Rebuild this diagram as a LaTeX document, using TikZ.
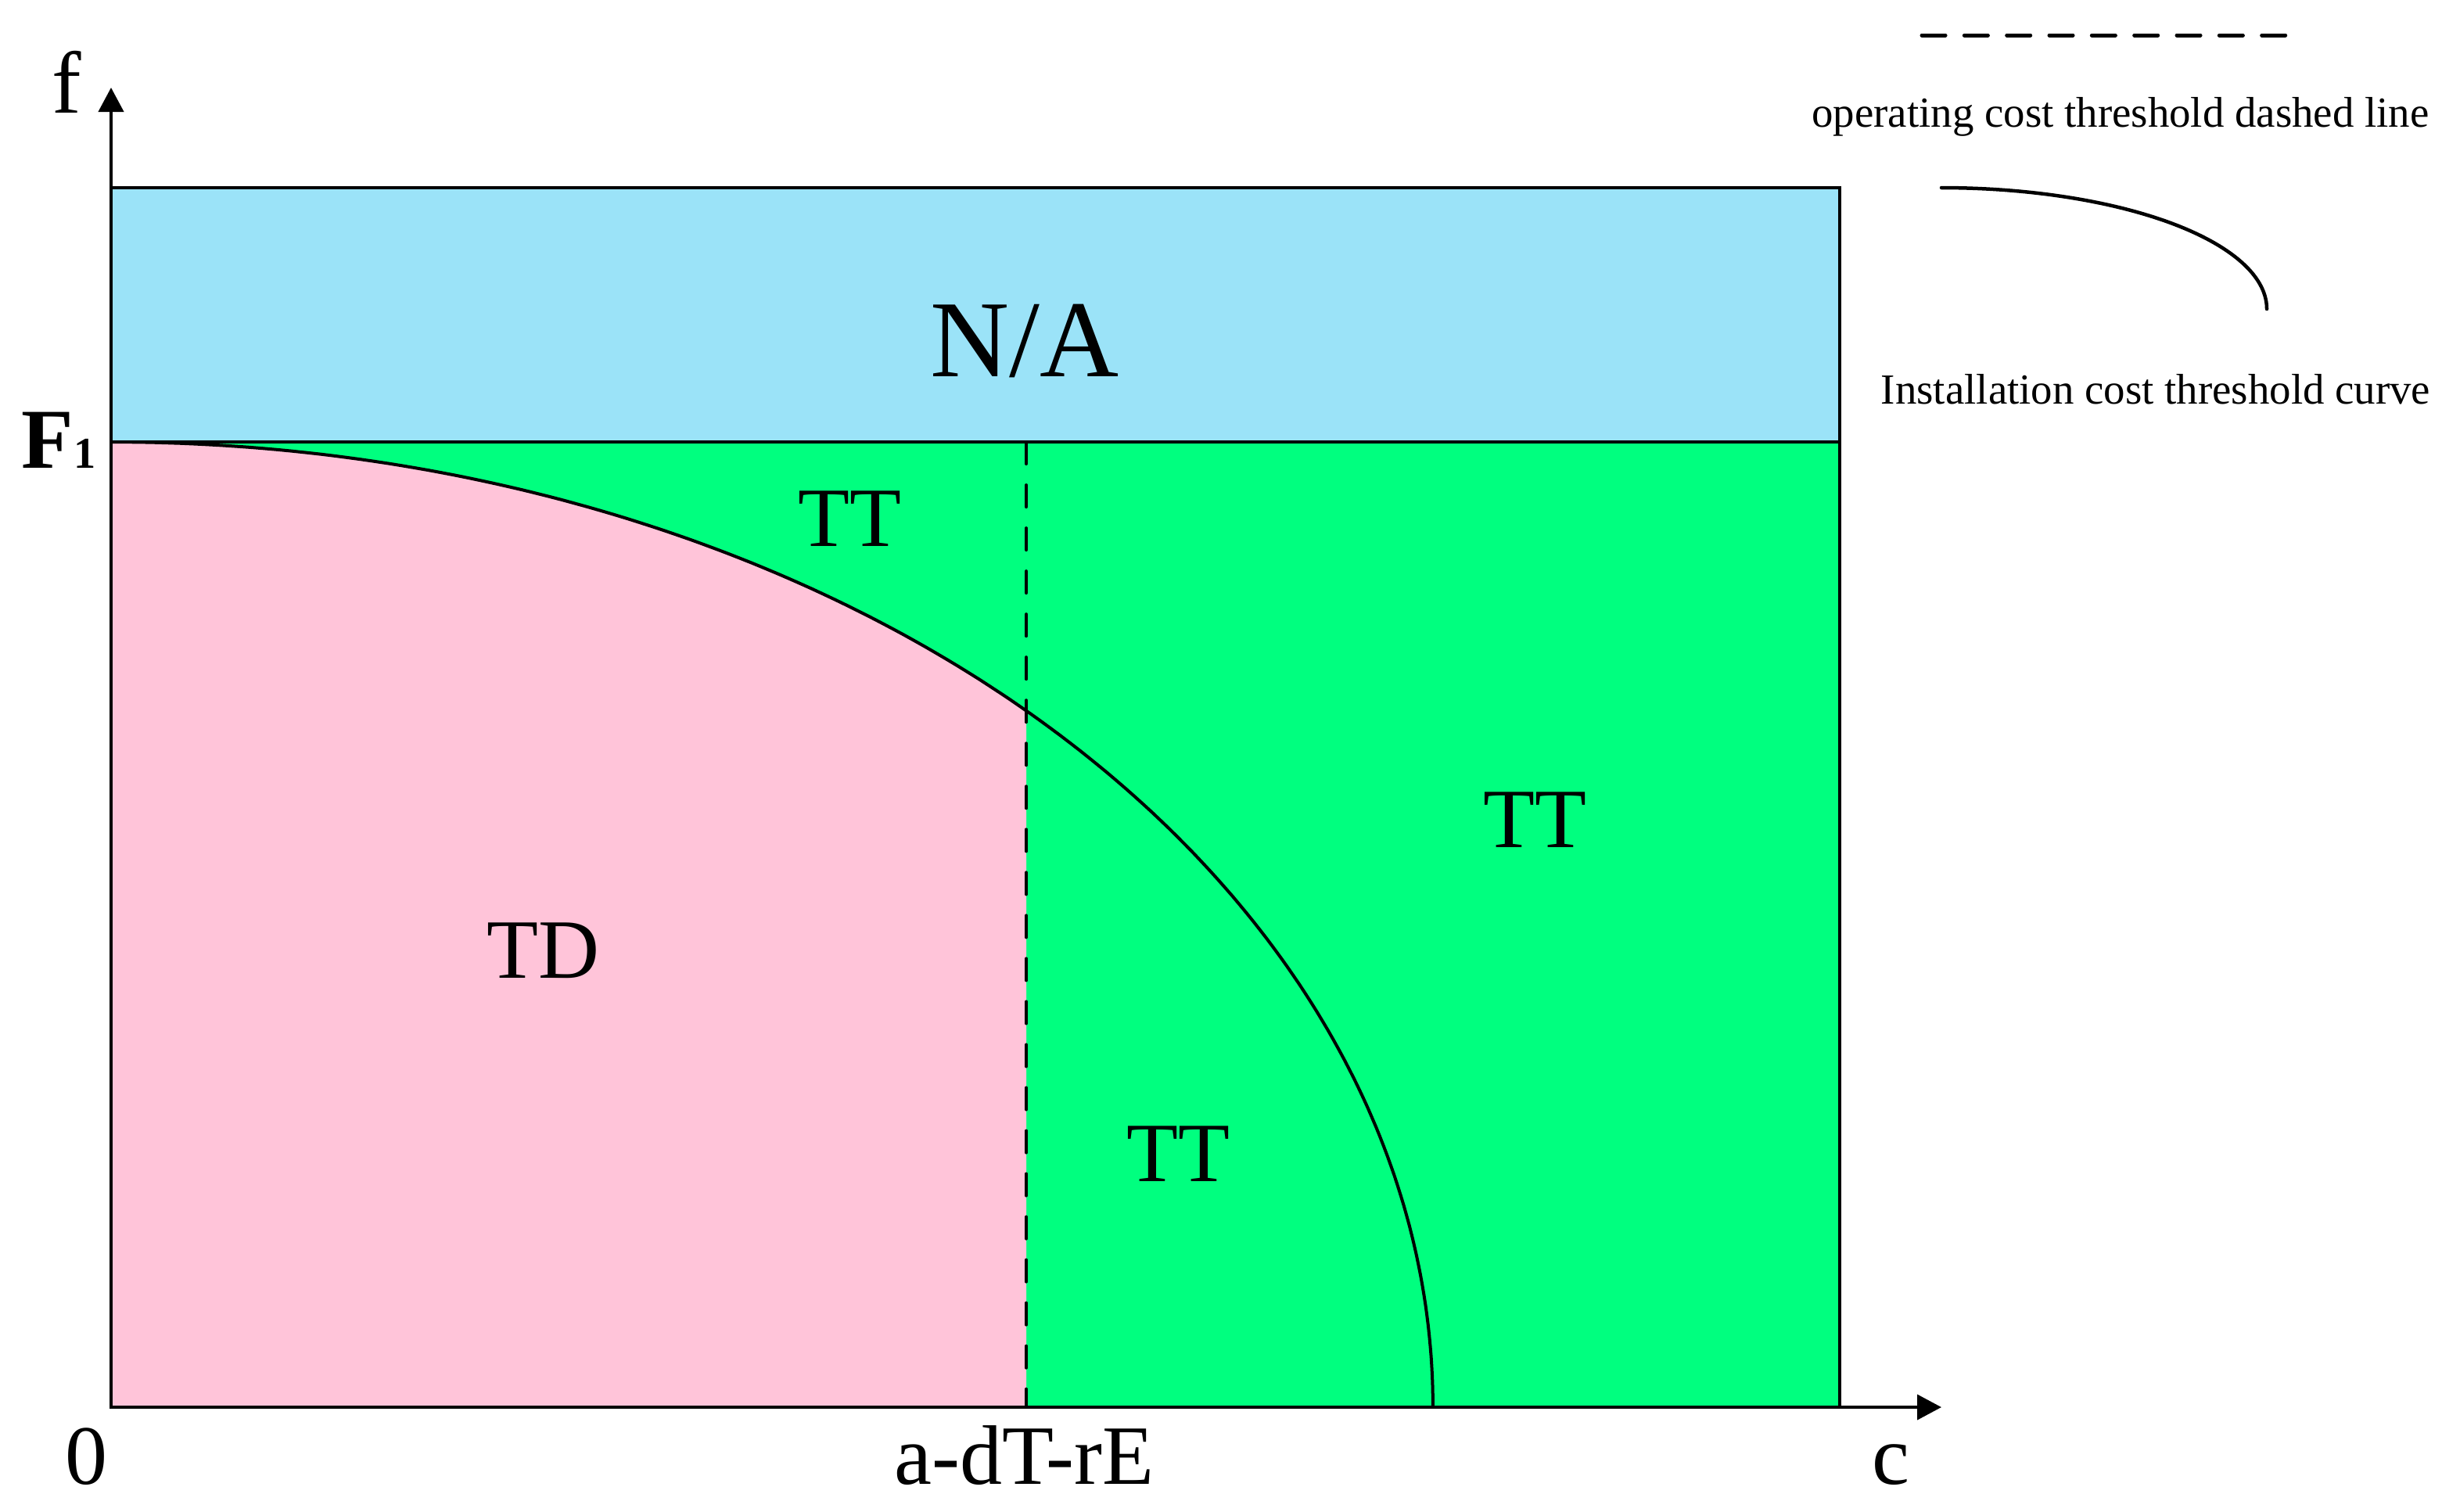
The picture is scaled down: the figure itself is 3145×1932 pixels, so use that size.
\documentclass[tikz,border=0pt]{standalone}
\usepackage{fontspec}
\setmainfont{Liberation Serif}
\usetikzlibrary{arrows.meta}
\definecolor{nablue}{RGB}{155,227,248}
\definecolor{tdpink}{RGB}{255,196,217}
\definecolor{ttgreen}{RGB}{0,255,127}
\begin{document}
\begin{tikzpicture}[x=0.01cm,y=-0.01cm,
  axisline/.style={line width=0.04cm,-{Triangle[length=0.31cm,width=0.32cm]}},
  border/.style={line width=0.032cm},
  curveline/.style={line width=0.04cm},
  dashline/.style={line width=0.04cm,line cap=round,dash pattern=on 0.28cm off 0.27cm},
  legdash/.style={line width=0.05cm,line cap=round,dash pattern=on 0.30cm off 0.243cm},
  legcurve/.style={line width=0.045cm,line cap=round},
  lbl/.style={anchor=base,inner sep=0pt,font=\fontsize{30.7}{36}\selectfont},
  biglbl/.style={anchor=base,inner sep=0pt,font=\fontsize{39.8}{46}\selectfont},
  leglbl/.style={anchor=base,inner sep=0pt,font=\fontsize{15.6}{18}\selectfont}]
\useasboundingbox (0,0) rectangle (3145,1932);
% key points
\coordinate (O) at (142,1799);
\coordinate (TL) at (142,240);
\coordinate (BR) at (2352,1799);
\coordinate (F1L) at (142,565);
\coordinate (F1R) at (2352,565);
\coordinate (DT) at (1312,565);
\coordinate (DM) at (1312,908.5);
\coordinate (DB) at (1312,1799);
\coordinate (YT) at (142,112);
\coordinate (XT) at (2482,1799);
\coordinate (LD1) at (2457,45);
\coordinate (LD2) at (2922,45);
% regions
\fill[nablue] (TL) rectangle (F1R);
\fill[ttgreen] (F1L) rectangle (BR);
\fill[tdpink] (O) -- plot[domain=-90:-46.19,samples=80] ({142+1690*cos(\x)},{1799+1234*sin(\x)}) -- (DM) -- (DB) -- cycle;
% outlines
\draw[border] (TL) rectangle (BR);
\draw[border] (F1L) -- (F1R);
\draw[curveline] plot[domain=-90:0,samples=150] ({142+1690*cos(\x)},{1799+1234*sin(\x)});
\draw[dashline] (DT) -- (DB);
\draw[axisline] (O) -- (YT);
\draw[axisline] (O) -- (XT);
% labels
\node[lbl,font=\fontsize{32}{38}\selectfont] (fl) at (85,144) {f};
\node[lbl,font=\fontsize{31}{36}\selectfont\bfseries] (F1) at (75,598) {F{\fontsize{16}{18}\selectfont 1}};
\node[lbl] (zero) at (110,1897) {0};
\node[lbl] (adt) at (1309,1897) {a-dT-rE};
\node[lbl] (cl) at (2417,1897) {c};
\node[biglbl] (na) at (1310,481) {N/A};
\node[lbl] (tt1) at (1086,698) {TT};
\node[lbl] (tt2) at (1962,1083) {TT};
\node[lbl] (td) at (694,1250) {TD};
\node[lbl] (tt3) at (1506,1510) {TT};
% legend
\draw[legdash] (LD1) -- (LD2);
\node[leglbl] (leg1) at (2711,162) {operating cost threshold dashed line};
\draw[legcurve] plot[domain=-90:0,samples=80] ({2482+416*cos(\x)},{395+155*sin(\x)});
\node[leglbl] (leg2) at (2756,516) {Installation cost threshold curve};
\end{tikzpicture}
\end{document}
